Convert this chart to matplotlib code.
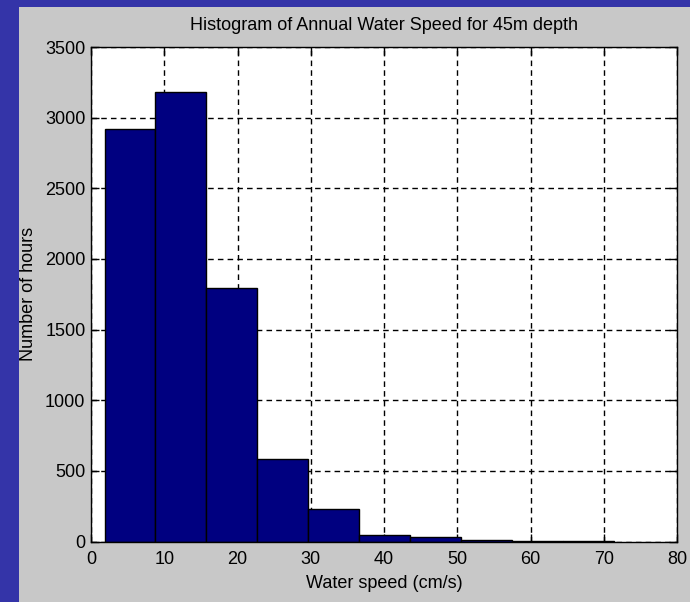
import matplotlib.pyplot as plt
from matplotlib.patches import Rectangle
import numpy as np

# histogram of annual water speed
bin_edges = [1.85, 8.80, 15.76, 22.71, 29.67, 36.62, 43.58, 50.53, 57.49, 64.44, 71.40]
counts = [2920, 3185, 1795, 583, 228, 45, 30, 9, 6, 4]
x_ticks = [0, 10, 20, 30, 40, 50, 60, 70, 80]
y_ticks = [0, 500, 1000, 1500, 2000, 2500, 3000, 3500]

plt.rcParams['font.family'] = ['Liberation Sans Narrow', 'Liberation Sans', 'DejaVu Sans']

fig = plt.figure(figsize=(6.9, 6.02), dpi=100)
fig.patch.set_facecolor('#3434a8')
# matlab figure panel sitting on the blue slide
fig.patches.append(Rectangle((19 / 690, 0), 1, 1 - 7 / 602, transform=fig.transFigure,
                             facecolor='#c8c8c8', edgecolor='none', zorder=-10))

ax = fig.add_axes([91 / 690, 1 - 541.5 / 602, (677 - 91) / 690, (541.5 - 47) / 602])
ax.set_zorder(5)
ax.set_facecolor('white')

left = np.array(bin_edges[:-1])
widths = np.diff(bin_edges)
ax.bar(left, counts, width=widths, align='edge', color='#000080',
       edgecolor='black', linewidth=1, zorder=3)

ax.set_xlim(0, 80)
ax.set_ylim(0, 3500)
ax.set_xticks(x_ticks)
ax.set_yticks(y_ticks)
ax.grid(True, linestyle=(0, (4, 3)), color='black', linewidth=1, zorder=1)
ax.set_axisbelow(True)
ax.tick_params(direction='in', length=6, width=1, top=True, right=True,
               labelsize=13, colors='black')
ax.tick_params(axis='x', pad=7)
ax.tick_params(axis='y', pad=4)
for s in ax.spines.values():
    s.set_linewidth(1)
    s.set_zorder(4)

ax.set_title('Histogram of Annual Water Speed for 45m depth', fontsize=13, pad=12)
ax.set_xlabel('Water speed (cm/s)', fontsize=13, labelpad=5)
ax.set_ylabel('Number of hours', fontsize=13, labelpad=6)

fig.savefig('out.png', dpi=100, facecolor=fig.get_facecolor())
